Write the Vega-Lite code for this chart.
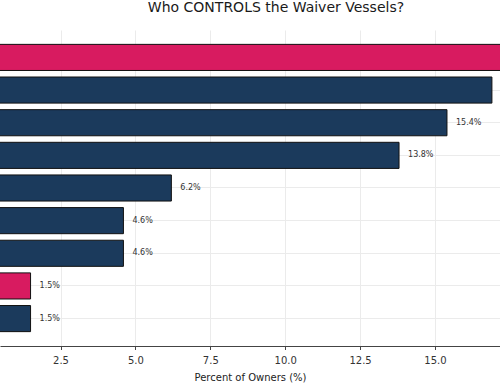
{
  "$schema": "https://vega.github.io/schema/vega-lite/v6.json",
  "width": 500,
  "height": 316,
  "autosize": {"type": "none"},
  "padding": {"left": 0, "right": 0, "top": 30, "bottom": 37},
  "background": "white",
  "title": {
    "text": "Who CONTROLS the Waiver Vessels?",
    "font": "DejaVu Sans",
    "fontSize": 14,
    "fontWeight": "normal",
    "color": "#1a1a1a",
    "anchor": "middle",
    "frame": "group",
    "dx": 26,
    "offset": 15
  },
  "config": {"view": {"stroke": null}, "font": "DejaVu Sans"},
  "data": {
    "values": [
      {"owner": "Owner group 1", "pct": 18.5, "highlight": "yes"},
      {"owner": "Owner group 2", "pct": 16.9, "highlight": "no"},
      {"owner": "Owner group 3", "pct": 15.4, "highlight": "no"},
      {"owner": "Owner group 4", "pct": 13.8, "highlight": "no"},
      {"owner": "Owner group 5", "pct": 6.2, "highlight": "no"},
      {"owner": "Owner group 6", "pct": 4.6, "highlight": "no"},
      {"owner": "Owner group 7", "pct": 4.6, "highlight": "no"},
      {"owner": "Owner group 8", "pct": 1.5, "highlight": "yes"},
      {"owner": "Owner group 9", "pct": 1.5, "highlight": "no"}
    ]
  },
  "transform": [{"calculate": "format(datum.pct, '.1f') + '%'", "as": "label"}],
  "encoding": {
    "y": {
      "field": "owner",
      "type": "nominal",
      "sort": null,
      "scale": {"paddingInner": 0.2, "paddingOuter": 0.44},
      "axis": {
        "title": null,
        "labels": false,
        "ticks": false,
        "domain": false,
        "grid": true,
        "bandPosition": 0.5,
        "gridColor": "#ebebeb",
        "gridWidth": 1
      }
    },
    "x": {
      "field": "pct",
      "type": "quantitative",
      "scale": {"domain": [0.48, 17.17], "nice": false, "zero": false},
      "axis": {
        "title": "Percent of Owners (%)",
        "values": [2.5, 5, 7.5, 10, 12.5, 15, 17.5],
        "format": ".1f",
        "grid": true,
        "gridColor": "#ebebeb",
        "gridWidth": 1,
        "domainColor": "#444444",
        "domainWidth": 1.2,
        "tickColor": "#444444",
        "tickSize": 3.5,
        "labelFontSize": 10,
        "labelColor": "#333333",
        "labelPadding": 6,
        "labelBound": false,
        "labelFlush": false,
        "titleFontSize": 10,
        "titleFontWeight": "normal",
        "titleColor": "#222222",
        "titlePadding": 7
      }
    }
  },
  "layer": [
    {
      "mark": {"type": "bar", "clip": true, "stroke": "#111111", "strokeWidth": 1},
      "encoding": {
        "x2": {"datum": 0},
        "color": {
          "field": "highlight",
          "type": "nominal",
          "scale": {"domain": ["yes", "no"], "range": ["#D81B60", "#1B3A5C"]},
          "legend": null
        }
      }
    },
    {
      "mark": {"type": "text", "align": "left", "baseline": "middle", "dx": 9, "fontSize": 8, "color": "#333333"},
      "encoding": {"text": {"field": "label"}}
    }
  ]
}
